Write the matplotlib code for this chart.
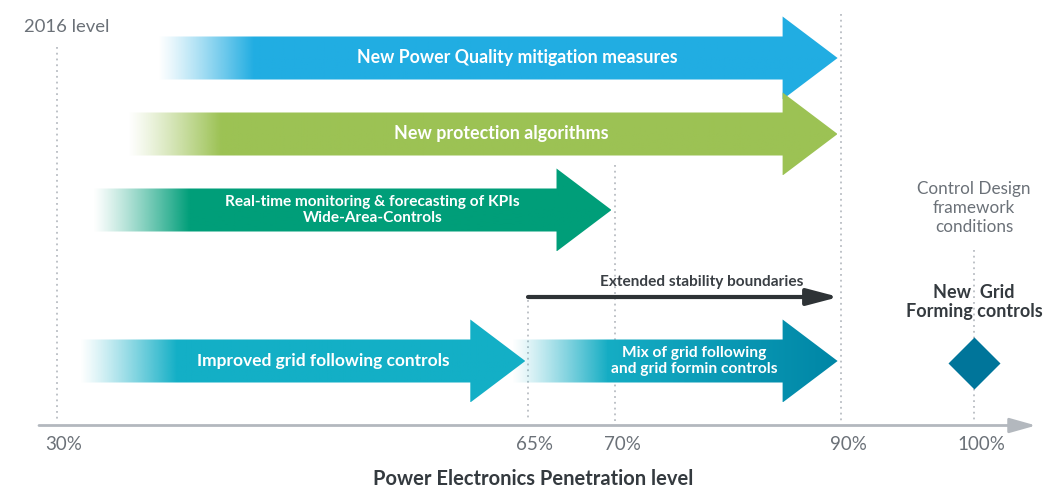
import numpy as np
import matplotlib.pyplot as plt
from matplotlib.patches import Polygon
from matplotlib.colors import to_rgb

plt.rcParams['font.family'] = ['Lato', 'DejaVu Sans']

# Penetration levels on the x axis and where each one sits across the figure (px)
levels = [30, 65, 70, 90, 100]
level_labels = ["30%", "65%", "70%", "90%", "100%"]
level_pos = [57, 528, 615, 841, 974]

# Dotted guide lines: level and how far up each one reaches (px from top)
guide_levels = [30, 65, 70, 90, 100]
guide_tops = [47, 300, 165, 14, 250]

# Big arrows: text, fade start, solid start and tip (all in % penetration)
arrow_labels = ["New Power Quality mitigation measures",
                "New protection algorithms",
                "Real-time monitoring & forecasting of KPIs\nWide-Area-Controls",
                "Improved grid following controls",
                "Mix of grid following\nand grid formin controls"]
arrow_fade = [37.4, 35.2, 32.6, 31.6, 63.7]
arrow_solid = [44.5, 42.1, 39.8, 38.8, 69.5]
arrow_tip = [89.7, 89.7, 69.8, 64.8, 89.7]

# Thin arrow for the stability boundaries and the diamond for grid forming
boundary_start, boundary_end = 65, 89.8
diamond_level = 100

# Layout / styling
arrow_row = [58, 134, 210, 361, 361]
arrow_color = ["#21ade2", "#9cc254", "#009e79", "#13afc6", "#15adc4"]
arrow_color_end = ["#21ade2", "#9cc254", "#009e79", "#13afc6", "#0086a6"]
arrow_fontsize = [12.8, 12.9, 11.1, 12.5, 11.2]
arrow_order = [4, 0, 1, 2, 3]
BODY_HALF, HEAD_HALF, HEAD_LEN = 21.5, 41.5, 55
GREY_TEXT = "#6b7178"
DARK_TEXT = "#343a3f"
GUIDE = "#b9bdc3"


def to_pos(p):
    p = np.asarray(p, dtype=float)
    left = level_pos[0] + (p - levels[0]) * (level_pos[1] - level_pos[0]) / (levels[1] - levels[0])
    right = level_pos[-1] + (p - levels[-1]) * (level_pos[-1] - level_pos[-2]) / (levels[-1] - levels[-2])
    return np.where(p < levels[0], left, np.where(p > levels[-1], right, np.interp(p, levels, level_pos)))


def to_pct(x):
    x = np.asarray(x, dtype=float)
    left = levels[0] + (x - level_pos[0]) * (levels[1] - levels[0]) / (level_pos[1] - level_pos[0])
    right = levels[-1] + (x - level_pos[-1]) * (levels[-1] - levels[-2]) / (level_pos[-1] - level_pos[-2])
    return np.where(x < level_pos[0], left, np.where(x > level_pos[-1], right, np.interp(x, level_pos, levels)))


fig = plt.figure(figsize=(10.43, 4.88), dpi=100)
ax = fig.add_axes([0, 0, 1, 1])
ax.set_xscale('function', functions=(to_pos, to_pct))
ax.axis('off')

# dotted guides
for lev, top in zip(guide_levels, guide_tops):
    ax.plot([lev, lev], [top, 421], ls=(0, (1, 2.2)), color=GUIDE, lw=1.3, zorder=1)

# big gradient arrows
for i in arrow_order:
    y = arrow_row[i]
    fade, solid, tip = arrow_fade[i], arrow_solid[i], arrow_tip[i]
    base = float(to_pct(to_pos(tip) - HEAD_LEN))
    verts = [(fade, y - BODY_HALF), (base, y - BODY_HALF), (base, y - HEAD_HALF), (tip, y),
             (base, y + HEAD_HALF), (base, y + BODY_HALF), (fade, y + BODY_HALF)]
    shape = Polygon(verts, closed=True, facecolor='none', edgecolor='none')
    ax.add_patch(shape)

    cols = np.linspace(fade, tip, 500)
    pos = to_pos(cols)
    p0, p1, p2 = float(to_pos(fade)), float(to_pos(solid)), float(to_pos(tip))
    c0, c1 = np.array(to_rgb(arrow_color[i])), np.array(to_rgb(arrow_color_end[i]))
    rgba = np.zeros((1, len(cols), 4))
    t_fade = np.clip((pos - p0) / (p1 - p0), 0, 1)
    t_body = np.clip((pos - p1) / (p2 - p1), 0, 1)
    rgba[0, :, :3] = c0[None, :] * (1 - t_body[:, None]) + c1[None, :] * t_body[:, None]
    rgba[0, :, 3] = t_fade ** 1.15
    im = ax.imshow(rgba, extent=(fade, tip, y + HEAD_HALF, y - HEAD_HALF), aspect='auto',
                   interpolation='bilinear', zorder=2)
    im.set_clip_path(shape)

    mid = float(to_pct((to_pos(solid) + to_pos(base)) / 2))
    ax.text(mid, y, arrow_labels[i], color="white", fontsize=arrow_fontsize[i], fontweight='bold',
            ha='center', va='center', linespacing=1.1, zorder=3)

# extended stability boundaries
ax.annotate('', xy=(boundary_end, 297), xytext=(boundary_start, 297),
            arrowprops=dict(arrowstyle='-|>,head_length=19,head_width=5', mutation_scale=1,
                            color="#2e3336", lw=3, shrinkA=0, shrinkB=0), zorder=3)
ax.text((boundary_start + boundary_end) / 2 + 0.3, 282, "Extended stability boundaries",
        color="#3a3f44", fontsize=11.1, fontweight='bold', ha='center', va='center')

# grid forming diamond
ax.plot([diamond_level], [363], marker='D', ms=26, color="#00759a", mec="none", zorder=3)
ax.text(diamond_level, 302, "New  Grid\nForming controls", color=DARK_TEXT, fontsize=13,
        fontweight='bold', ha='center', va='center', linespacing=1.15, zorder=3)
ax.text(diamond_level, 208, "Control Design\nframework\nconditions", color=GREY_TEXT,
        fontsize=12.3, ha='center', va='center', linespacing=1.2)

# x axis line with arrow
ax.annotate('', xy=(float(to_pct(1036)), 425.5), xytext=(float(to_pct(39)), 425.5),
            arrowprops=dict(arrowstyle='-|>,head_length=16,head_width=4.5', mutation_scale=1,
                            color="#b3b8be", lw=2, shrinkA=0, shrinkB=0), zorder=1)

for lev, lab in zip(levels, level_labels):
    ax.text(float(to_pct(to_pos(lev) + 7)), 444, lab, color=GREY_TEXT, fontsize=13.5,
            ha='center', va='center')

ax.text(float(to_pct(24)), 27, "2016 level", color=GREY_TEXT, fontsize=13.3, ha='left', va='center')
ax.text(float(to_pct(533)), 479, "Power Electronics Penetration level", color=DARK_TEXT,
        fontsize=14.5, fontweight='bold', ha='center', va='center')

ax.set_xlim(float(to_pct(0)), float(to_pct(1043)))
ax.set_ylim(488, 0)

fig.savefig("out.png", dpi=100)
